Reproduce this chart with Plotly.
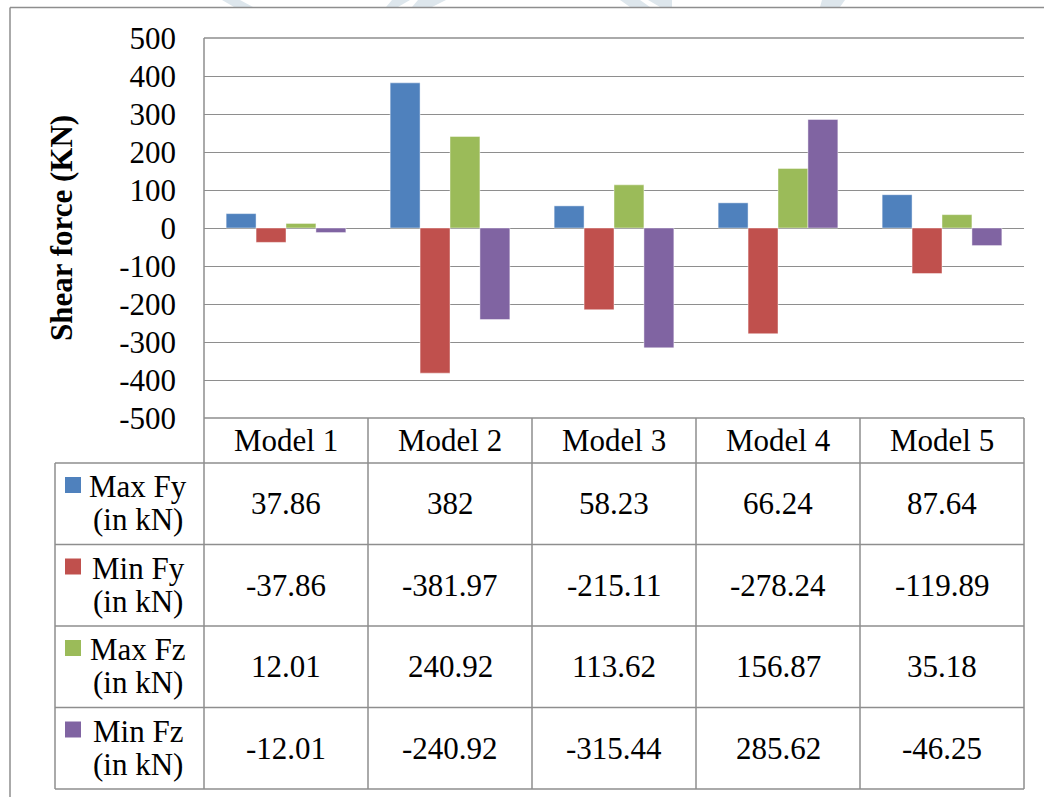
import plotly.graph_objects as go

# ---- data -------------------------------------------------------------
models = ["Model 1", "Model 2", "Model 3", "Model 4", "Model 5"]
max_fy = [37.86, 382, 58.23, 66.24, 87.64]
min_fy = [-37.86, -381.97, -215.11, -278.24, -119.89]
max_fz = [12.01, 240.92, 113.62, 156.87, 35.18]
min_fz = [-12.01, -240.92, -315.44, 285.62, -46.25]

series_names = ["Max Fy", "Min Fy", "Max Fz", "Min Fz"]
series_units = "(in kN)"
series_values = [max_fy, min_fy, max_fz, min_fz]
series_colors = ["#4F81BD", "#C0504D", "#9BBB59", "#8064A2"]

y_ticks = [500, 400, 300, 200, 100, 0, -100, -200, -300, -400, -500]
y_tick_labels = ["500", "400", "300", "200", "100", "0", "-100", "-200",
                 "-300", "-400", "-500"]
y_title = "Shear force (KN)"

# ---- page geometry (pixels) -------------------------------------------
W, H = 1044, 797
PL, PR, PT, PB = 204, 1024, 38, 418          # plot area
FONT = "Liberation Serif, Times New Roman, serif"
FS = 31
GRID = "#8e8e8e"


def px(x):
    return (x - PL) / (PR - PL)


def py(y):
    return (PB - y) / (PB - PT)


fig = go.Figure()
for name, vals, col in zip(series_names, series_values, series_colors):
    fig.add_trace(go.Bar(
        x=models, y=vals, name=name,
        marker=dict(color=col, line=dict(color="rgba(255,255,255,0.45)", width=1)),
        hoverinfo="x+y+name",
    ))

shapes = []
annotations = []

# outer chart frame
shapes.append(dict(type="line", xref="paper", yref="paper",
                   x0=px(10), x1=px(W + 5), y0=py(7.5), y1=py(7.5),
                   line=dict(color=GRID, width=1.5), layer="above"))
shapes.append(dict(type="line", xref="paper", yref="paper",
                   x0=px(10), x1=px(10), y0=py(7.5), y1=py(H + 5),
                   line=dict(color=GRID, width=1.5), layer="above"))

# faint background watermark strokes along the top edge
wm = [
    [(222, 0), (240, 0), (253, 7), (234, 7)],
    [(392, 0), (410, 0), (398, 7), (386, 7)],
    [(418, 0), (446, 0), (432, 7), (412, 7)],
    [(620, 0), (640, 0), (650, 7), (630, 7)],
    [(648, 0), (672, 0), (672, 7), (660, 7)],
    [(822, 0), (845, 0), (840, 7), (820, 7)],
]
for poly in wm:
    path = "M " + " L ".join(f"{px(a)},{py(b)}" for a, b in poly) + " Z"
    shapes.append(dict(type="path", xref="paper", yref="paper", path=path,
                       fillcolor="#dde6ec", line=dict(width=0), layer="below"))

# top gridline of the plot area (edge of the value range)
shapes.append(dict(type="line", xref="paper", yref="paper",
                   x0=0, x1=1, y0=1, y1=1,
                   line=dict(color=GRID, width=1.3), layer="above"))

# data table under the plot
row_edges = [418, 463, 544.5, 626, 707.5, 789]
TL = 55  # left edge of the series-name column
line_style = dict(color=GRID, width=1.5)
# horizontal rules
for i, yy in enumerate(row_edges):
    x0 = PL if i == 0 else TL
    shapes.append(dict(type="line", xref="paper", yref="paper",
                       x0=px(x0), x1=px(PR), y0=py(yy), y1=py(yy),
                       line=line_style, layer="above"))
# vertical rules on category boundaries
for k in range(len(models) + 1):
    shapes.append(dict(type="line", xref="paper", yref="paper",
                       x0=k / len(models), x1=k / len(models),
                       y0=py(row_edges[0]), y1=py(row_edges[-1]),
                       line=line_style, layer="above"))
shapes.append(dict(type="line", xref="paper", yref="paper",
                   x0=px(TL), x1=px(TL), y0=py(row_edges[1]), y1=py(row_edges[-1]),
                   line=line_style, layer="above"))
# vertical axis line of the plot area
shapes.append(dict(type="line", xref="paper", yref="paper",
                   x0=0, x1=0, y0=0, y1=1, line=line_style, layer="above"))

# header row: category names
hdr_y = (row_edges[0] + row_edges[1]) / 2
for m in models:
    annotations.append(dict(x=m, xref="x", y=py(hdr_y), yref="paper",
                            text=m, showarrow=False,
                            font=dict(family=FONT, size=FS, color="black"),
                            xanchor="center", yanchor="middle"))

# series rows: legend key, name and values
for r, (name, vals, col) in enumerate(zip(series_names, series_values, series_colors)):
    top, bot = row_edges[r + 1], row_edges[r + 2]
    mid = (top + bot) / 2
    shapes.append(dict(type="rect", xref="paper", yref="paper",
                       x0=px(65), x1=px(81), y0=py(top + 14), y1=py(top + 30),
                       fillcolor=col, line=dict(width=0), layer="above"))
    annotations.append(dict(x=px(138), xref="paper", y=py(mid - 17), yref="paper",
                            text=name, showarrow=False,
                            font=dict(family=FONT, size=FS, color="black"),
                            xanchor="center", yanchor="middle"))
    annotations.append(dict(x=px(138), xref="paper", y=py(mid + 16), yref="paper",
                            text=series_units, showarrow=False,
                            font=dict(family=FONT, size=FS, color="black"),
                            xanchor="center", yanchor="middle"))
    for m, v in zip(models, vals):
        annotations.append(dict(x=m, xref="x", y=py(mid), yref="paper",
                                text=f"{v:g}", showarrow=False,
                                font=dict(family=FONT, size=FS, color="black"),
                                xanchor="center", yanchor="middle"))

# vertical axis title
annotations.append(dict(x=px(61), xref="paper", y=py(228), yref="paper",
                        text=f"<b>{y_title}</b>", textangle=-90, showarrow=False,
                        font=dict(family=FONT, size=FS, color="black"),
                        xanchor="center", yanchor="middle"))

fig.update_layout(
    width=W, height=H,
    margin=dict(l=PL, r=W - PR, t=PT, b=H - PB, autoexpand=False),
    paper_bgcolor="white", plot_bgcolor="white",
    barmode="group", bargap=0.27, bargroupgap=0,
    showlegend=False,
    font=dict(family=FONT, size=FS, color="black"),
    shapes=shapes, annotations=annotations,
    xaxis=dict(range=[-0.5, len(models) - 0.5], showticklabels=False,
               showgrid=False, zeroline=False, showline=False, ticks=""),
    yaxis=dict(range=[-500, 500], tickvals=y_ticks, ticktext=y_tick_labels,
               showgrid=True, gridcolor=GRID, gridwidth=1.3,
               zeroline=True, zerolinecolor=GRID, zerolinewidth=1.3,
               showline=False, ticks="", ticklabelstandoff=27,
               tickfont=dict(family=FONT, size=FS, color="black")),
)

fig.write_html("out.html")
